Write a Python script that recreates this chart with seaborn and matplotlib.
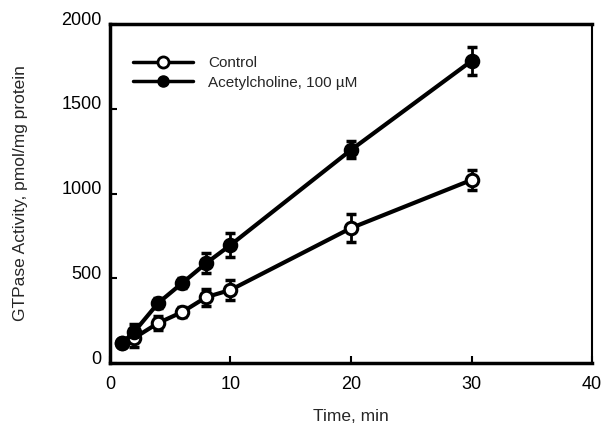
import matplotlib
matplotlib.use("Agg")
import matplotlib.pyplot as plt
import seaborn as sns
import pandas as pd
from matplotlib.lines import Line2D
from matplotlib.transforms import ScaledTranslation

time = [1, 2, 4, 6, 8, 10, 20, 30]
control = [118, 147, 236, 301, 389, 431, 796, 1080]
control_err = [15, 55, 40, 30, 50, 60, 83, 57]
ach = [118, 183, 354, 472, 590, 696, 1257, 1782]
ach_err = [15, 45, 30, 30, 60, 70, 50, 80]

sns.set_theme(style="ticks")
plt.rcParams['font.family'] = ['Liberation Sans', 'DejaVu Sans']

df = pd.DataFrame({
    "time": time * 2,
    "value": control + ach,
    "series": ["Control"] * len(time) + ["Acetylcholine, 100 µM"] * len(time),
})

fig = plt.figure(figsize=(6.02, 4.32), dpi=100)
ax = fig.add_axes([0.1827, 0.1597, 0.8007, 0.7847])

for name, vals, errs, mfc in [("Control", control, control_err, "white"),
                              ("Acetylcholine, 100 µM", ach, ach_err, "black")]:
    ax.errorbar(time, vals, yerr=errs, fmt="none", ecolor="black", elinewidth=2,
                capsize=3.5, capthick=2.5, zorder=2)
    sub = df[df.series == name]
    sns.lineplot(data=sub, x="time", y="value", ax=ax, color="black", linewidth=3,
                 marker="o", markersize=9, markerfacecolor=mfc, markeredgecolor="black",
                 markeredgewidth=2.2, zorder=3, legend=False)

ax.set_xlim(0, 40)
ax.set_ylim(0, 2000)
ax.set_xticks([0, 10, 20, 30, 40])
ax.set_yticks([0, 500, 1000, 1500, 2000])
ax.tick_params(direction="in", length=5, width=1.5, labelsize=13, colors="black")
ax.tick_params(axis="x", pad=9)
ax.tick_params(axis="y", pad=6)
ax.set_xlabel("Time, min", fontsize=12.5, labelpad=12)
ax.set_ylabel("GTPase Activity, pmol/mg protein", fontsize=12.5, labelpad=24)
for s in ["left", "bottom", "top"]:
    ax.spines[s].set_linewidth(2.5)
    ax.spines[s].set_color("black")
ax.spines["right"].set_linewidth(1.5)
ax.spines["right"].set_color("black")

offset = ScaledTranslation(0, 6 / 100, fig.dpi_scale_trans)
for lab in ax.get_yticklabels():
    lab.set_transform(lab.get_transform() + offset)

handles = [
    Line2D([], [], color="black", lw=2.5, marker="o", markersize=8,
           markerfacecolor="white", markeredgecolor="black", markeredgewidth=2),
    Line2D([], [], color="black", lw=2.5, marker="o", markersize=8,
           markerfacecolor="black", markeredgecolor="black"),
]
ax.legend(handles, ["Control", "Acetylcholine, 100 µM"], loc="upper left",
          bbox_to_anchor=(0.048, 0.905), frameon=False, handlelength=3.9,
          handletextpad=1.0, borderpad=0, borderaxespad=0,
          fontsize=11, labelspacing=0.35)

fig.savefig("out.png", dpi=100)
